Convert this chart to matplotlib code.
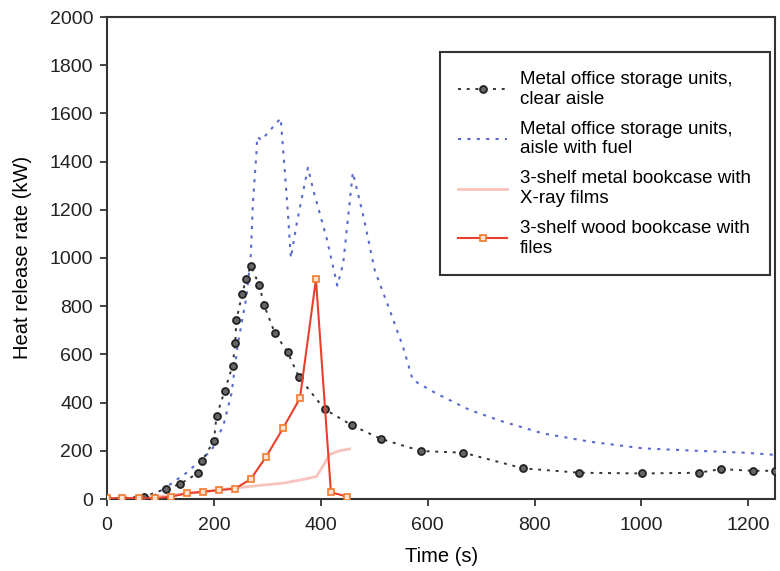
import matplotlib
matplotlib.use("Agg")
import matplotlib.pyplot as plt

plt.rcParams['font.family'] = ['Liberation Sans', 'DejaVu Sans']

# Metal office storage units, clear aisle
t_clear = [0, 70, 111, 136, 171, 178, 200, 205, 220, 235, 240, 242, 253, 260, 269, 285, 294, 314, 338,
           359, 407, 459, 513, 588, 667, 779, 884, 1002, 1107, 1149, 1209, 1250]
q_clear = [0, 10, 43, 61, 109, 158, 242, 344, 448, 553, 647, 743, 850, 911, 967, 887, 804, 689, 609,
           506, 373, 305, 249, 199, 192, 127, 109, 106, 109, 124, 117, 117]

# Metal office storage units, aisle with fuel
t_fuel = [0, 50, 90, 149, 196, 218, 233, 245, 261, 269, 273, 280, 281, 289, 325, 333, 339, 344, 355,
          376, 386, 411, 431, 442, 460, 480, 501, 529, 554, 572, 616, 679, 741, 816, 903, 1003, 1114,
          1195, 1250]
q_fuel = [0, 3, 16, 109, 203, 307, 438, 646, 839, 1010, 1227, 1448, 1503, 1489, 1580, 1351, 1171, 1000,
          1143, 1375, 1282, 1082, 885, 978, 1355, 1171, 949, 784, 631, 494, 438, 369, 321, 272, 238,
          210, 199, 192, 183]

# 3-shelf metal bookcase with X-ray films
t_xray = [0, 60, 120, 180, 236, 280, 330, 360, 392, 405, 417, 435, 454]
q_xray = [0, 5, 15, 30, 45, 55, 66, 78, 93, 140, 185, 200, 208]

# 3-shelf wood bookcase with files
t_wood = [0, 29, 59, 90, 120, 150, 180, 210, 240, 269, 298, 330, 361, 391, 419, 449]
q_wood = [3, 3, 3, 3, 10, 24, 30, 37, 43, 83, 176, 296, 418, 912, 28, 10]

labels = ["Metal office storage units,\nclear aisle",
          "Metal office storage units,\naisle with fuel",
          "3-shelf metal bookcase with\nX-ray films",
          "3-shelf wood bookcase with\nfiles"]

fig = plt.figure(figsize=(7.8, 5.71), dpi=100)
ax = fig.add_axes([107/780, 1 - 499/571, 668/780, 482/571])

ax.plot(t_clear, q_clear, linestyle=(0, (1.5, 3)), color='#333333', lw=1.4,
        marker='o', ms=5, mfc='#666666', mec='#222222', mew=1.3, label=labels[0], zorder=3)
ax.plot(t_fuel, q_fuel, linestyle=(0, (1.5, 3)), color='#5a6acc', lw=1.5, label=labels[1], zorder=2)
ax.plot(t_xray, q_xray, color='#f4aaa0', lw=2.0, alpha=0.7, linestyle='-', label=labels[2], zorder=1)
ax.plot(t_wood, q_wood, color='#e8402c', lw=1.5, marker='s', ms=5, mfc='#fde3cf',
        mec='#f07a30', mew=1.2, label=labels[3], zorder=4)

ax.set_xlim(0, 1250)
ax.set_ylim(0, 2000)
ax.set_xticks(range(0, 1201, 200))
ax.set_yticks(range(0, 2001, 200))
ax.tick_params(labelsize=14, direction='out', length=5, width=1.2, colors='#222222', pad=5)
ax.tick_params(axis='x', pad=8)
for s in ax.spines.values():
    s.set_linewidth(1.5)
    s.set_color('#333333')
ax.set_xlabel("Time (s)", fontsize=14.5)
ax.set_ylabel("Heat release rate (kW)", fontsize=14.5)
ax.xaxis.set_label_coords(0.501, -0.10)
ax.yaxis.set_label_coords(-0.112, 0.501)

leg = ax.legend(loc='upper right', bbox_to_anchor=(0.9925, 0.927), fontsize=13.5,
                fancybox=False, edgecolor='#333333', framealpha=1, labelspacing=0.7,
                handlelength=2.6, borderpad=1.0, handletextpad=0.7, borderaxespad=0)
leg.get_frame().set_linewidth(1.5)

fig.savefig("out.png", dpi=100)
